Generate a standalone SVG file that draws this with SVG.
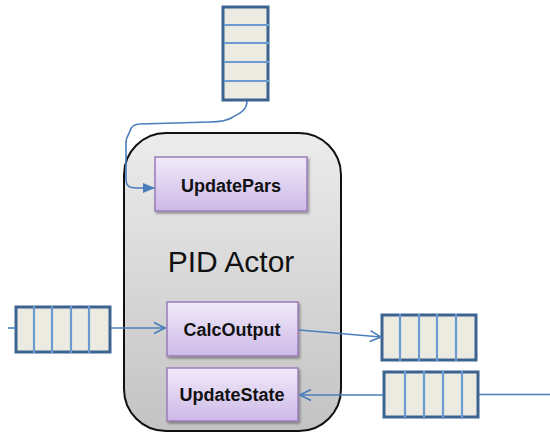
<svg xmlns="http://www.w3.org/2000/svg" width="550" height="434" viewBox="0 0 550 434">
<defs>
<linearGradient id="actorGrad" x1="0" y1="0" x2="0" y2="1">
<stop offset="0" stop-color="#ececec"/>
<stop offset="1" stop-color="#c3c3c3"/>
</linearGradient>
<linearGradient id="boxGrad" x1="0" y1="0" x2="0" y2="1">
<stop offset="0" stop-color="#f1eafa"/>
<stop offset="1" stop-color="#cdb9e7"/>
</linearGradient>
<filter id="shadow" x="-10%" y="-10%" width="130%" height="140%">
<feDropShadow dx="1.5" dy="2" stdDeviation="1.2" flood-color="#000" flood-opacity="0.35"/>
</filter>
<marker id="openArrow" viewBox="0 0 14 14" refX="13" refY="7" markerWidth="14" markerHeight="14" markerUnits="userSpaceOnUse" orient="auto">
<path d="M2,1.5 L13,7 L2,12.5" fill="none" stroke="#4a7ebb" stroke-width="1.6"/>
</marker>
<marker id="fillArrow" viewBox="0 0 12 12" refX="11" refY="6" markerWidth="12" markerHeight="12" markerUnits="userSpaceOnUse" orient="auto">
<path d="M0,1 L12,6 L0,11 Z" fill="#4a7ebb"/>
</marker>
</defs>
<style>
.queue rect { fill: #ecebe1; stroke: #3d6491; stroke-width: 3; }
.queue line { stroke: #6b9bd0; stroke-width: 2.2; }
.box rect { fill: url(#boxGrad); stroke: #9a7cb9; stroke-width: 1.5; filter: url(#shadow); }
.box text { font-family: "Liberation Sans", Arial, sans-serif; font-weight: bold; font-size: 18px; fill: #111; text-anchor: middle; }
.conn { fill: none; stroke: #4a7ebb; stroke-width: 1.6; }
</style>

<g id="actor">
<rect x="124" y="133" width="217" height="298" rx="42" ry="42" fill="url(#actorGrad)" stroke="#111" stroke-width="2"/>
<text x="231" y="272" font-family="Liberation Sans, Arial, sans-serif" font-size="30" fill="#111" text-anchor="middle">PID Actor</text>
</g>

<g id="queue-top" class="queue">
<rect x="223" y="7" width="45" height="93"/>
<line x1="224" y1="25" x2="269" y2="25"/>
<line x1="224" y1="43" x2="269" y2="43"/>
<line x1="224" y1="62" x2="269" y2="62"/>
<line x1="224" y1="81" x2="269" y2="81"/>
</g>

<g id="queue-left" class="queue">
<rect x="16" y="307" width="94" height="45"/>
<line x1="34" y1="306" x2="34" y2="353"/>
<line x1="52" y1="306" x2="52" y2="353"/>
<line x1="71" y1="306" x2="71" y2="353"/>
<line x1="89" y1="306" x2="89" y2="353"/>
</g>

<g id="queue-right-out" class="queue">
<rect x="382" y="315" width="94" height="45"/>
<line x1="400" y1="314" x2="400" y2="361"/>
<line x1="419" y1="314" x2="419" y2="361"/>
<line x1="437" y1="314" x2="437" y2="361"/>
<line x1="456" y1="314" x2="456" y2="361"/>
</g>

<g id="queue-right-in" class="queue">
<rect x="384" y="372" width="94" height="45"/>
<line x1="405" y1="371" x2="405" y2="419"/>
<line x1="424" y1="371" x2="424" y2="419"/>
<line x1="443" y1="371" x2="443" y2="419"/>
<line x1="462" y1="371" x2="462" y2="419"/>
</g>

<g id="UpdatePars" class="box">
<rect x="155" y="157" width="152" height="54"/>
<text x="231" y="192">UpdatePars</text>
</g>

<g id="CalcOutput" class="box">
<rect x="167" y="302" width="131" height="54"/>
<text x="232" y="336">CalcOutput</text>
</g>

<g id="UpdateState" class="box">
<rect x="167" y="368" width="131" height="53"/>
<text x="232" y="401">UpdateState</text>
</g>

<g id="connectors">
<path class="conn" d="M247,101 C247,110 240,113 233,117 C227,121 220,122 210,122 L140,124 C133,124 131,127 130,131 C129,134 126,137 126,142 L126,180 C126,186 129,188 136,188 L154,188" marker-end="url(#fillArrow)"/>
<line class="conn" x1="8" y1="328" x2="16" y2="328"/>
<line class="conn" x1="111" y1="328" x2="165" y2="328" marker-end="url(#openArrow)"/>
<line class="conn" x1="299" y1="330" x2="381" y2="337" marker-end="url(#openArrow)"/>
<line class="conn" x1="550" y1="394.5" x2="479" y2="394.5"/>
<line class="conn" x1="383" y1="395" x2="300" y2="395" marker-end="url(#openArrow)"/>
</g>
</svg>
